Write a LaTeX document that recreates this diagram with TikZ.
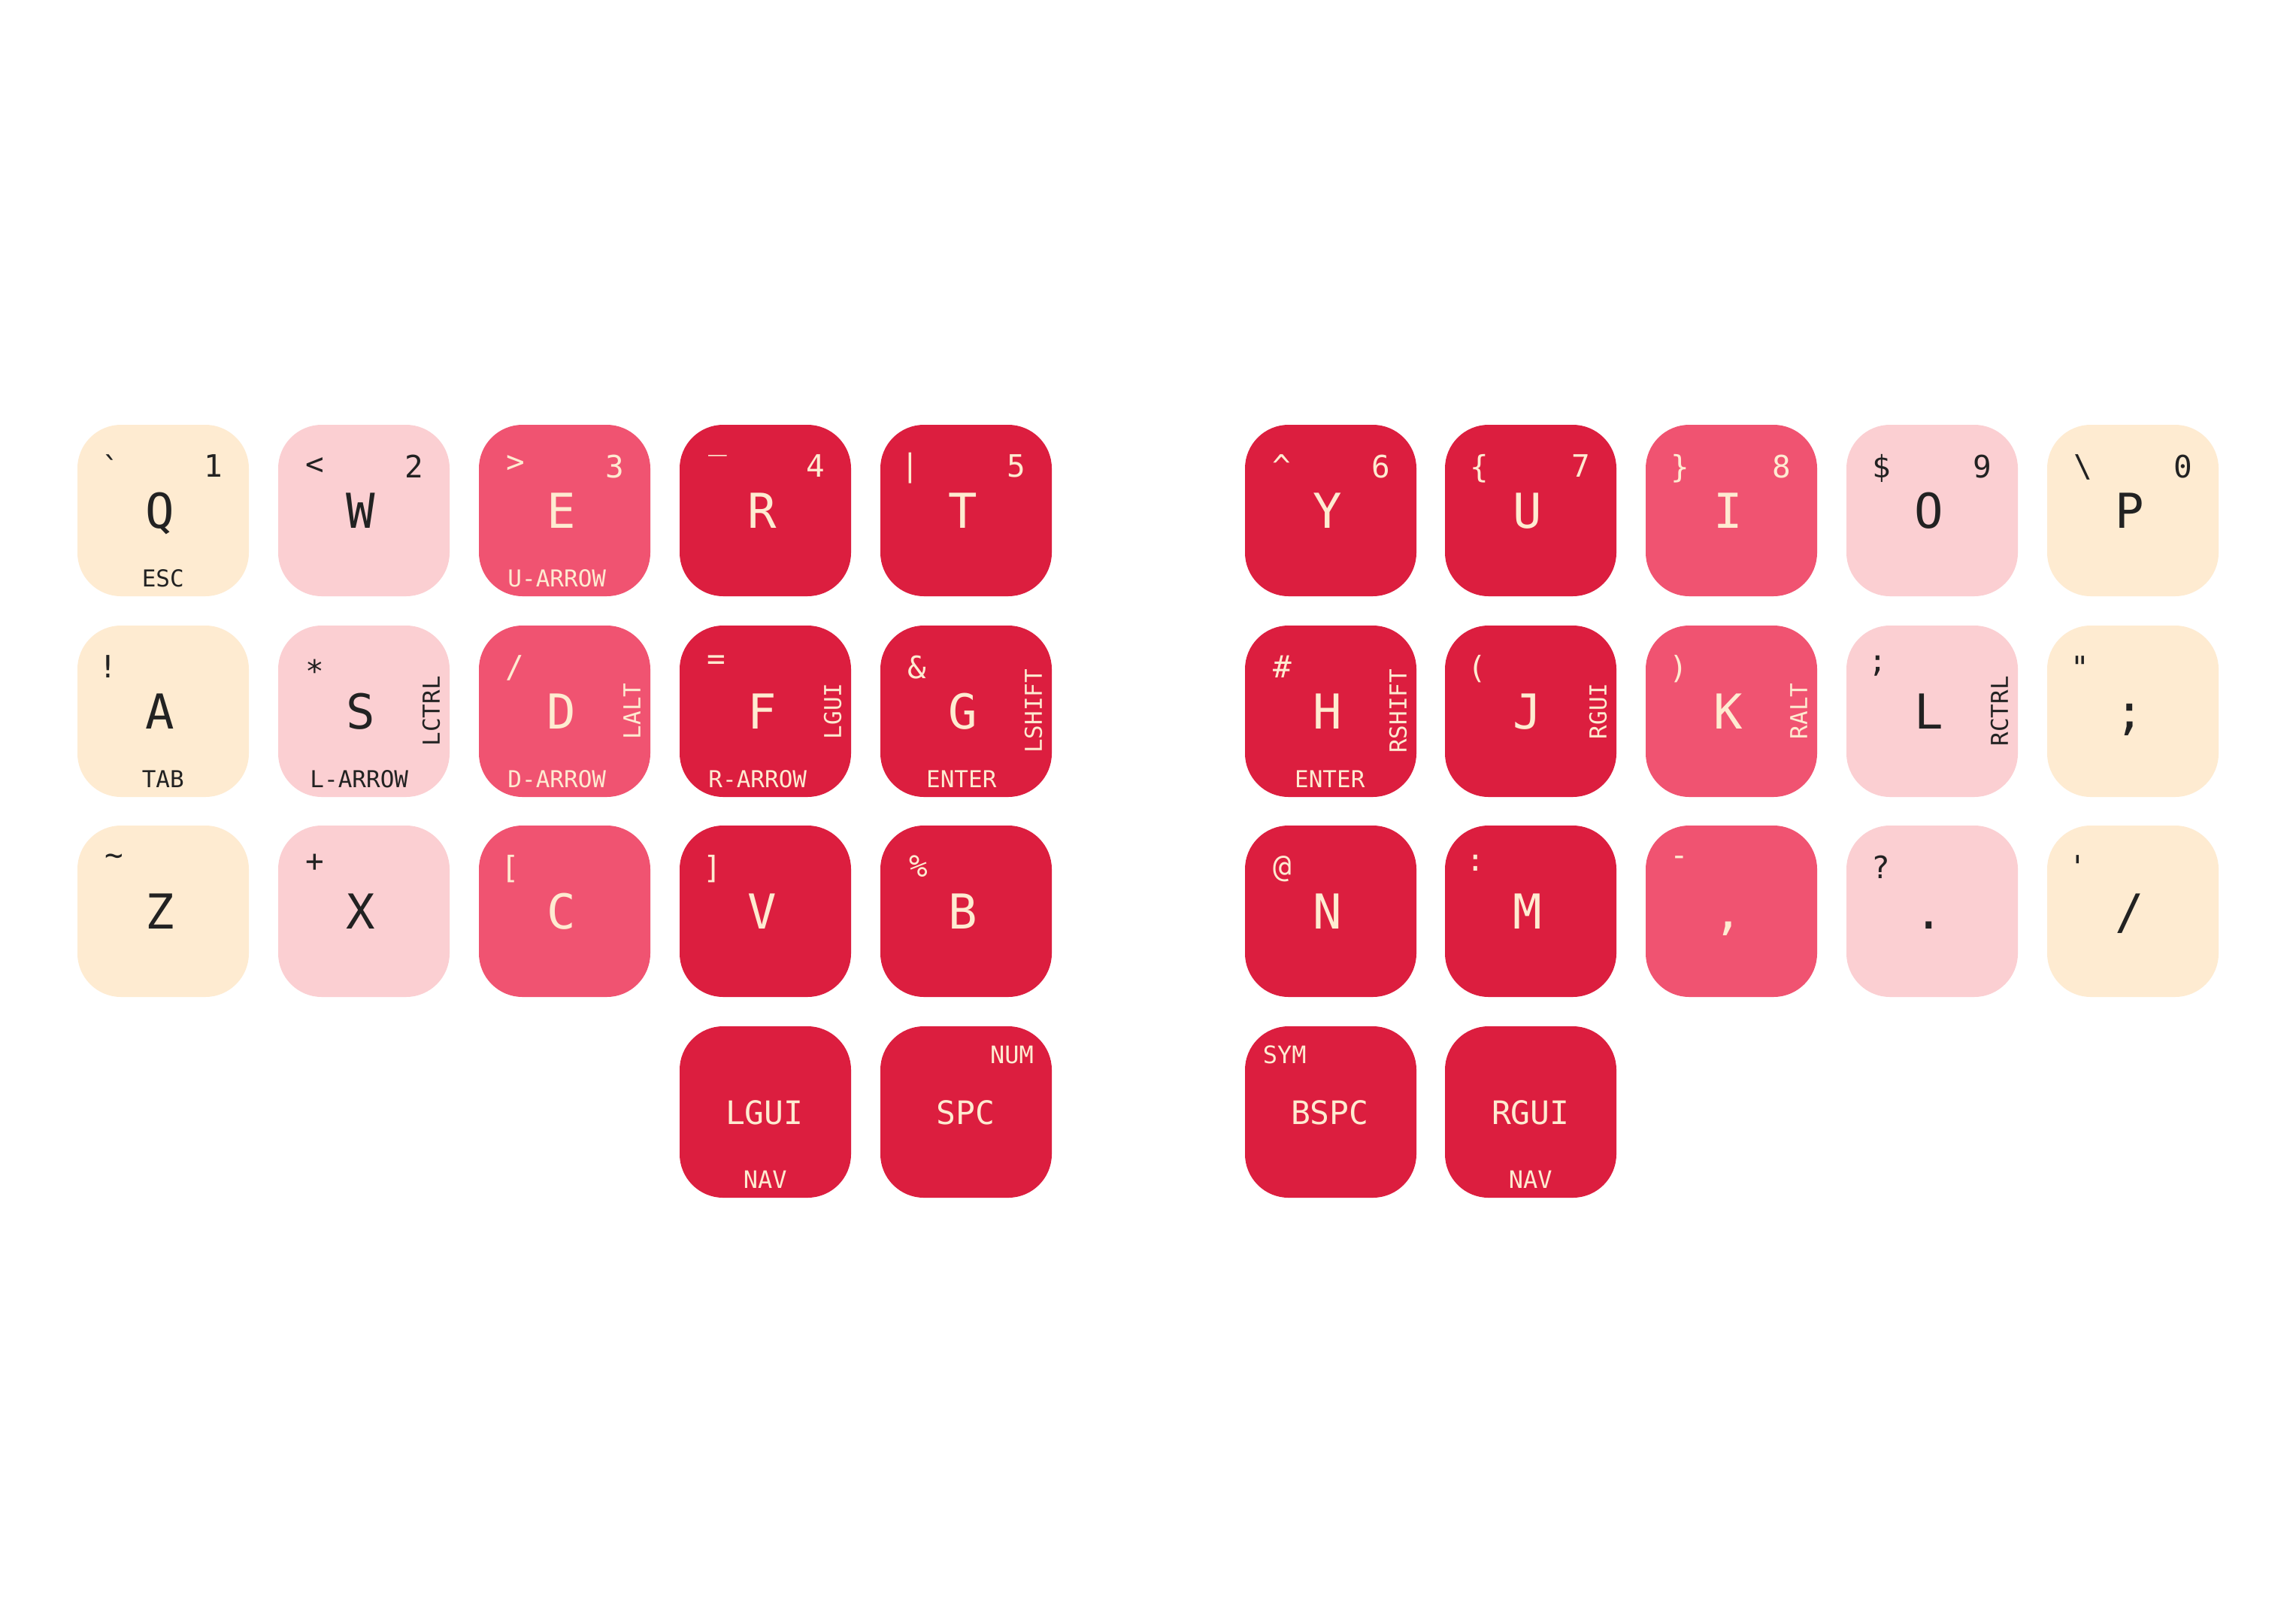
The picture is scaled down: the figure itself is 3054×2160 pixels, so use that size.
\documentclass[tikz,border=0pt]{standalone}
\usepackage{fontspec}
\newfontfamily\km[Ligatures=TeXOff]{DejaVu Sans Mono}
\definecolor{cream}{HTML}{FEEBD1}
\definecolor{lpink}{HTML}{FBCFD2}
\definecolor{mpink}{HTML}{F05371}
\definecolor{kred}{HTML}{DC1E3F}
\definecolor{darkc}{HTML}{222222}
\definecolor{lightc}{HTML}{FEEBD1}
\tikzset{
  keybox/.style={rectangle, rounded corners=58pt, minimum width=228pt, minimum height=228pt, inner sep=0pt, draw=none},
  lg/.style={inner sep=0pt, outer sep=0pt},
  tlf/.style={lg, font=\km\fontsize{41}{41}\selectfont, anchor=north west},
  trf/.style={lg, font=\km\fontsize{41}{41}\selectfont, anchor=north east},
  mainf/.style={lg, font=\km\fontsize{64}{64}\selectfont, anchor=base},
  botf/.style={lg, font=\km\fontsize{31}{31}\selectfont, anchor=base},
  sidef/.style={lg, font=\km\fontsize{31}{31}\selectfont, rotate=90, anchor=base},
  thumbf/.style={lg, font=\km\fontsize{43}{43}\selectfont, anchor=base},
  holdf/.style={lg, font=\km\fontsize{32}{32}\selectfont},
}
% key: name, x, y, fill
\newcommand\Kb[4]{\node[keybox, fill=#4] (#1) at (#2+114,#3+114) {};}
% top-left: key, dx, dy, text, color
\newcommand\Tl[5]{\node[tlf, text=#5] (#1-tl) at ([xshift=#2pt,yshift=-#3pt]#1.north west) {#4};}
% top-right: key, text, color
\newcommand\Tr[3]{\node[trf, text=#3] (#1-tr) at ([xshift=193pt,yshift=-40pt]#1.north west) {#2};}
% main: key, text, color
\newcommand\Mn[3]{\node[mainf, text=#3] (#1-m) at ([xshift=110pt,yshift=-138pt]#1.north west) {#2};}
% bottom: key, x, text, color
\newcommand\Bt[4]{\node[botf, text=#4] (#1-b) at ([xshift=#2pt,yshift=-216pt]#1.north west) {#3};}
% side: key, text, color
\newcommand\Sd[3]{\node[sidef, text=#3] (#1-s) at ([xshift=215pt,yshift=-114pt]#1.north west) {#2};}
\begin{document}
\begin{tikzpicture}[x=1pt,y=-1pt]
\fill[white] (0,0) rectangle (3054,2160);
\useasboundingbox (0,0) rectangle (3054,2160);

% ---------- row 1 ----------
\Kb{Q}{103}{565}{cream}
\Tl{Q}{33}{40}{`}{darkc}\Tr{Q}{1}{darkc}\Mn{Q}{Q}{darkc}\Bt{Q}{114}{ESC}{darkc}
\Kb{W}{370}{565}{lpink}
\Tl{W}{37}{44}{<}{darkc}\Tr{W}{2}{darkc}\Mn{W}{W}{darkc}
\Kb{E}{637}{565}{mpink}
\Tl{E}{37}{41}{>}{lightc}\Tr{E}{3}{lightc}\Mn{E}{E}{lightc}\Bt{E}{104}{U-ARROW}{lightc}
\Kb{R}{904}{565}{kred}
\Tl{R}{39}{33}{\_}{lightc}\Tr{R}{4}{lightc}\Mn{R}{R}{lightc}
\Kb{T}{1171}{565}{kred}
\Tl{T}{28}{37}{|}{lightc}\Tr{T}{5}{lightc}\Mn{T}{T}{lightc}

\Kb{Y}{1656}{565}{kred}
\Tl{Y}{37}{40}{\textasciicircum}{lightc}\Tr{Y}{6}{lightc}\Mn{Y}{Y}{lightc}
\Kb{U}{1922}{565}{kred}
\Tl{U}{34}{40}{\{}{lightc}\Tr{U}{7}{lightc}\Mn{U}{U}{lightc}
\Kb{I}{2189}{565}{mpink}
\Tl{I}{34}{40}{\}}{lightc}\Tr{I}{8}{lightc}\Mn{I}{I}{lightc}
\Kb{O}{2456}{565}{lpink}
\Tl{O}{35}{40}{\$}{darkc}\Tr{O}{9}{darkc}\Mn{O}{O}{darkc}
\Kb{P}{2723}{565}{cream}
\Tl{P}{36}{40}{\textbackslash}{darkc}\Tr{P}{0}{darkc}\Mn{P}{P}{darkc}

% ---------- row 2 ----------
\Kb{A}{103}{832}{cream}
\Tl{A}{29}{40}{!}{darkc}\Mn{A}{A}{darkc}\Bt{A}{114}{TAB}{darkc}
\Kb{S}{370}{832}{lpink}
\Tl{S}{37}{45}{*}{darkc}\Mn{S}{S}{darkc}\Sd{S}{LCTRL}{darkc}\Bt{S}{108}{L-ARROW}{darkc}
\Kb{D}{637}{832}{mpink}
\Tl{D}{36}{40}{/}{lightc}\Mn{D}{D}{lightc}\Sd{D}{LALT}{lightc}\Bt{D}{104}{D-ARROW}{lightc}
\Kb{F}{904}{832}{kred}
\Tl{F}{37}{40}{=}{lightc}\Mn{F}{F}{lightc}\Sd{F}{LGUI}{lightc}\Bt{F}{104}{R-ARROW}{lightc}
\Kb{G}{1171}{832}{kred}
\Tl{G}{37}{40}{\&}{lightc}\Mn{G}{G}{lightc}\Sd{G}{LSHIFT}{lightc}\Bt{G}{108}{ENTER}{lightc}

\Kb{H}{1656}{832}{kred}
\Tl{H}{38}{40}{\#}{lightc}\Mn{H}{H}{lightc}\Sd{H}{RSHIFT}{lightc}\Bt{H}{113}{ENTER}{lightc}
\Kb{J}{1922}{832}{kred}
\Tl{J}{31}{40}{(}{lightc}\Mn{J}{J}{lightc}\Sd{J}{RGUI}{lightc}
\Kb{K}{2189}{832}{mpink}
\Tl{K}{32}{40}{)}{lightc}\Mn{K}{K}{lightc}\Sd{K}{RALT}{lightc}
\Kb{L}{2456}{832}{lpink}
\Tl{L}{30}{40}{;}{darkc}\Mn{L}{L}{darkc}\Sd{L}{RCTRL}{darkc}
\Kb{SC}{2723}{832}{cream}
\Tl{SC}{32}{41}{"}{darkc}\Mn{SC}{;}{darkc}

% ---------- row 3 ----------
\Kb{Z}{103}{1098}{cream}
\Tl{Z}{37}{38}{\textasciitilde}{darkc}\Mn{Z}{Z}{darkc}
\Kb{X}{370}{1098}{lpink}
\Tl{X}{37}{38}{+}{darkc}\Mn{X}{X}{darkc}
\Kb{C}{637}{1098}{mpink}
\Tl{C}{30}{40}{[}{lightc}\Mn{C}{C}{lightc}
\Kb{V}{904}{1098}{kred}
\Tl{V}{32}{40}{]}{lightc}\Mn{V}{V}{lightc}
\Kb{B}{1171}{1098}{kred}
\Tl{B}{39}{40}{\%}{lightc}\Mn{B}{B}{lightc}

\Kb{N}{1656}{1098}{kred}
\Tl{N}{38}{41}{@}{lightc}\Mn{N}{N}{lightc}
\Kb{M}{1922}{1098}{kred}
\Tl{M}{29}{39}{:}{lightc}\Mn{M}{M}{lightc}
\Kb{CM}{2189}{1098}{mpink}
\Tl{CM}{33}{41}{-}{lightc}\Mn{CM}{,}{lightc}
\Kb{DT}{2456}{1098}{lpink}
\Tl{DT}{34}{40}{?}{darkc}\Mn{DT}{.}{darkc}
\Kb{SL}{2723}{1098}{cream}
\Tl{SL}{29}{40}{'}{darkc}\Mn{SL}{/}{darkc}

% ---------- thumbs ----------
\Kb{T1}{904}{1365}{kred}
\node[thumbf, text=lightc] (T1-m) at ([xshift=113pt,yshift=-131pt]T1.north west) {LGUI};
\node[holdf, anchor=base, text=lightc] (T1-b) at ([xshift=114pt,yshift=-216pt]T1.north west) {NAV};
\Kb{T2}{1171}{1365}{kred}
\node[thumbf, text=lightc] (T2-m) at ([xshift=114pt,yshift=-131pt]T2.north west) {SPC};
\node[holdf, anchor=base east, text=lightc] (T2-t) at ([xshift=204pt,yshift=-50pt]T2.north west) {NUM};
\Kb{T3}{1656}{1365}{kred}
\node[thumbf, text=lightc] (T3-m) at ([xshift=113pt,yshift=-131pt]T3.north west) {BSPC};
\node[holdf, anchor=base west, text=lightc] (T3-t) at ([xshift=24pt,yshift=-50pt]T3.north west) {SYM};
\Kb{T4}{1922}{1365}{kred}
\node[thumbf, text=lightc] (T4-m) at ([xshift=114pt,yshift=-131pt]T4.north west) {RGUI};
\node[holdf, anchor=base, text=lightc] (T4-b) at ([xshift=114pt,yshift=-216pt]T4.north west) {NAV};
\end{tikzpicture}
\end{document}
